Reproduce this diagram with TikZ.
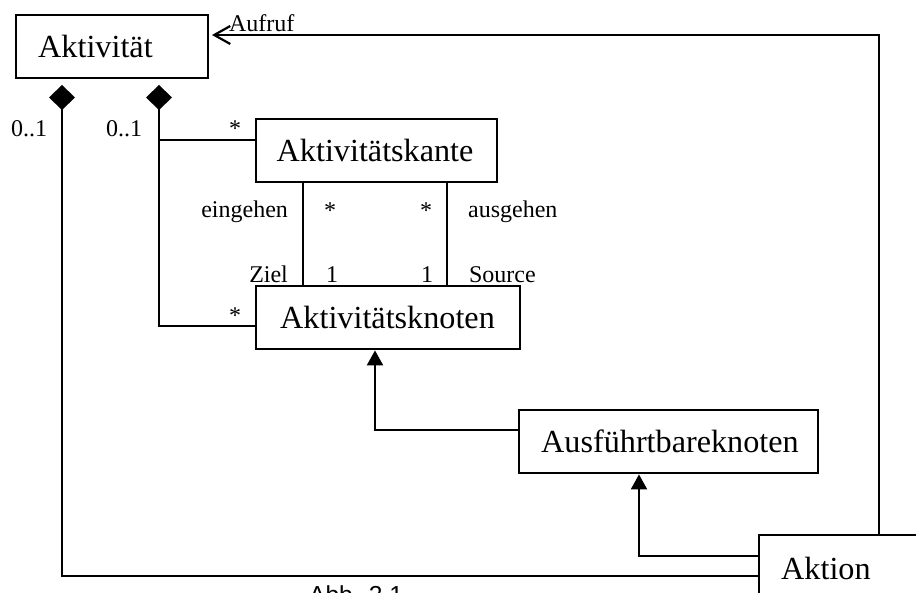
\documentclass[tikz,border=0pt]{standalone}
\usepackage{fontspec}
\setmainfont{Liberation Serif}
\newfontfamily\capfont{Liberation Sans}
\usetikzlibrary{arrows.meta}
\begin{document}
\begin{tikzpicture}[x=0.5pt,y=-0.5pt,
  line width=1.1pt,
  box/.style={draw, line width=1.2pt, anchor=north west, minimum height=31.5pt,
    inner xsep=11pt, inner ysep=0pt, align=left, font=\fontsize{16.1}{18}\selectfont},
  lbl/.style={anchor=base west, inner sep=0pt, font=\fontsize{12}{13}\selectfont},
  lblr/.style={lbl, anchor=base east},
  comp/.style={{Diamond[length=12.5pt,width=13pt]}-},
  gen/.style={-{Triangle[length=7.5pt,width=8pt]}},
  nav/.style={-{Straight Barb[length=8pt,width=9pt]}},
]
\useasboundingbox (0,0) rectangle (916,593);
\clip (0,0) rectangle (916,593);
\fill[white] (0,0) rectangle (916,593);

% classes
\node[box, text width=74pt]   (akt)    at (15,14)   {Aktivität};
\node[box, text width=100pt, inner xsep=10.25pt] (kante)  at (255,118) {Aktivitätskante};
\node[box, text width=108pt, inner xsep=12pt] (knoten) at (255,285) {Aktivitätsknoten};
\node[box, text width=127.5pt] (ausf)  at (518,409) {Ausführtbareknoten};
\node[box, text width=78pt, minimum height=33pt] (aktion) at (758,534) {Aktion};

% helper coordinates
\coordinate (d1) at (62,85);
\coordinate (d2) at (159,85);
\coordinate (b1) at (62,576);
\coordinate (b2) at (159,326);
\coordinate (br) at (159,140);
\coordinate (g1) at (375,430);
\coordinate (g2) at (639,556);
\coordinate (call) at (212,35);
\coordinate (callx) at (879,35);
\coordinate (v1) at (303,181);
\coordinate (v2) at (447,181);

% compositions
\draw[comp] (d1) -- (b1) -- (aktion.west |- b1);
\draw[comp] (d2) -- (b2) -- (knoten.west |- b2);
\draw (br) -- (kante.west |- br);

% associations between Kante and Knoten
\draw (v1) -- (knoten.north -| v1);
\draw (v2) -- (knoten.north -| v2);

% generalizations
\draw[gen] (ausf.west |- g1) -- (g1) -- (knoten.south -| g1);
\draw[gen] (aktion.west |- g2) -- (g2) -- (ausf.south -| g2);

% Aufruf
\draw[nav] (aktion.north -| callx) -- (callx) -- (call);

% labels
\node[lbl] (m1) at (10,137) {0..1};
\node[lbl] (m2) at (105,137) {0..1};
\node[lbl] (s1) at (228,137) {*};
\node[lbl] (s2) at (228,324) {*};
\node[lblr] (ein) at (289,218) {eingehen};
\node[lbl] (s3) at (323,219) {*};
\node[lbl] (s4) at (419,219) {*};
\node[lbl] (aus) at (467,218) {ausgehen};
\node[lblr] (ziel) at (289,283) {Ziel};
\node[lbl] (o1) at (325,283) {1};
\node[lbl] (o2) at (420,283) {1};
\node[lbl] (src) at (468,283) {Source};
\node[lbl] (auf) at (228,32) {Aufruf};
\node[anchor=base west, inner sep=0pt, font=\capfont\fontsize{12.3}{14}\selectfont] (cap) at (308,603) {Abb. 2.1};
\end{tikzpicture}
\end{document}
